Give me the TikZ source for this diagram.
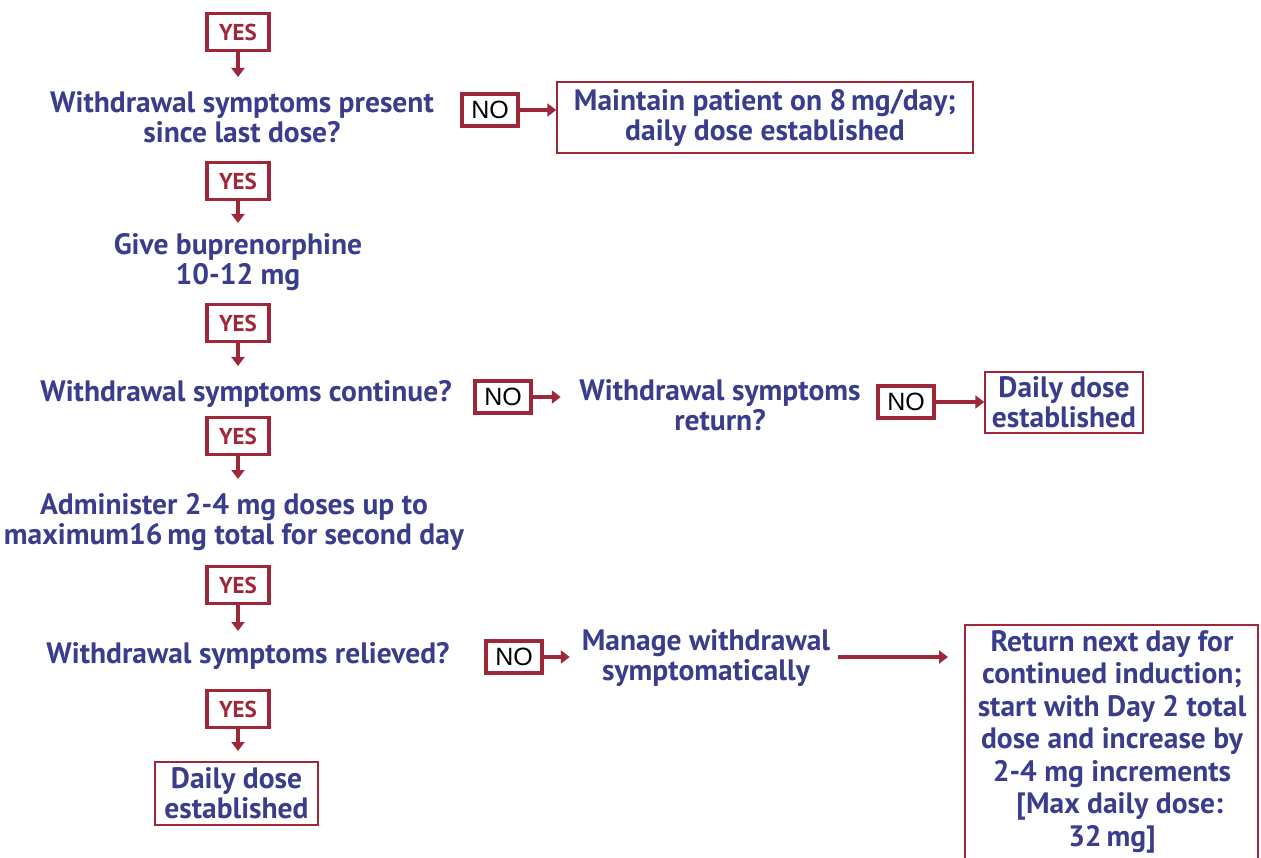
\documentclass[tikz,border=0pt]{standalone}
\usepackage{fontspec}
\setmainfont{PT Sans}
\newfontfamily\nofont{Liberation Sans}
\usetikzlibrary{arrows.meta}
\definecolor{txtblue}{RGB}{58,60,140}
\definecolor{boxred}{RGB}{158,40,58}
\tikzset{
  txt/.style={text=txtblue, align=center, font=\bfseries\fontsize{29.5}{30}\selectfont, inner sep=0pt},
  yesbox/.style={draw=boxred, line width=3.5pt, text=boxred, minimum width=62pt, minimum height=37pt, inner sep=0pt, font=\bfseries\fontsize{23}{24}\selectfont},
  nobox/.style={draw=boxred, line width=3.5pt, text=black, minimum width=56pt, minimum height=32pt, inner sep=0pt, font=\nofont\fontsize{25}{24}\selectfont},
  outbox/.style={draw=boxred, line width=1.5pt, text=txtblue, align=center, inner sep=0pt, font=\bfseries\fontsize{29.5}{30}\selectfont},
  arr/.style={draw=boxred, line width=3.5pt, -{Triangle[width=13pt,length=9pt]}, fill=boxred}
}
\begin{document}
\begin{tikzpicture}[x=1pt,y=-1pt]
\useasboundingbox (0,0) rectangle (1261,858);
% column
\node[yesbox] (y1) at (238,32) {YES};
\coordinate (y1t) at (238,77);
\node[txt] (q1) at (242,117) {Withdrawal symptoms present\\since last dose?};
\node[nobox] (n1) at (490,110) {NO};
\node[outbox, minimum width=416pt, minimum height=71pt] (m1) at (765,117.5) {Maintain patient on 8\,mg/day;\\daily dose established};
\node[yesbox] (y2) at (238,181) {YES};
\coordinate (y2t) at (238,223);
\node[txt] (g1) at (238,262) {Give buprenorphine\\10-12 mg};
\node[yesbox] (y3) at (238,323) {YES};
\coordinate (y3t) at (238,366);
\node[txt] (q2) at (246,394) {Withdrawal symptoms continue?};
\node[nobox] (n2) at (503,397) {NO};
\node[txt] (r1) at (720,405) {Withdrawal symptoms\\return?};
\node[nobox] (n3) at (906,402) {NO};
\node[outbox, minimum width=158pt, minimum height=61pt] (d1) at (1064,402.5) {Daily dose\\established};
\node[yesbox] (y4) at (238,436) {YES};
\coordinate (y4t) at (238,479);
\node[txt] (a1) at (234,522) {Administer 2-4 mg doses up to\\maximum16\,mg total for second day};
\node[yesbox] (y5) at (238,585) {YES};
\coordinate (y5t) at (238,631);
\node[txt] (q3) at (248,656) {Withdrawal symptoms relieved?};
\node[nobox] (n4) at (514,657) {NO};
\node[txt] (mg) at (706,658) {Manage withdrawal\\symptomatically};
\coordinate (rb) at (948,657);
\coordinate (ms) at (838,657);
\draw[boxred, line width=1.5pt] (965,890) -- (965,625) -- (1258,625) -- (1258,890);
\node[txt, font=\bfseries\fontsize{29.5}{32.5}\selectfont, anchor=north] (rt) at (1112,630) {Return next day for\\continued induction;\\start with Day 2 total\\dose and increase by\\2-4 mg increments\\\phantom{x}[Max daily dose:\\32\,mg]};
\node[yesbox] (y6) at (238,709) {YES};
\coordinate (y6t) at (238,751);
\node[outbox, minimum width=163pt, minimum height=63pt] (d2) at (236.5,793.5) {Daily dose\\established};
% connectors
\draw[arr] (y1.south) -- (y1t);
\draw[arr] (y2.south) -- (y2t);
\draw[arr] (y3.south) -- (y3t);
\draw[arr] (y4.south) -- (y4t);
\draw[arr] (y5.south) -- (y5t);
\draw[arr] (y6.south) -- (y6t);
\draw[arr] (n1.east) -- (n1.east -| m1.west);
\draw[arr] (n2.east) -- ++(28,0);
\draw[arr] (n3.east) -- (n3.east -| d1.west);
\draw[arr] (n4.east) -- ++(26,0);
\draw[arr] (ms) -- (rb);
\end{tikzpicture}
\end{document}
